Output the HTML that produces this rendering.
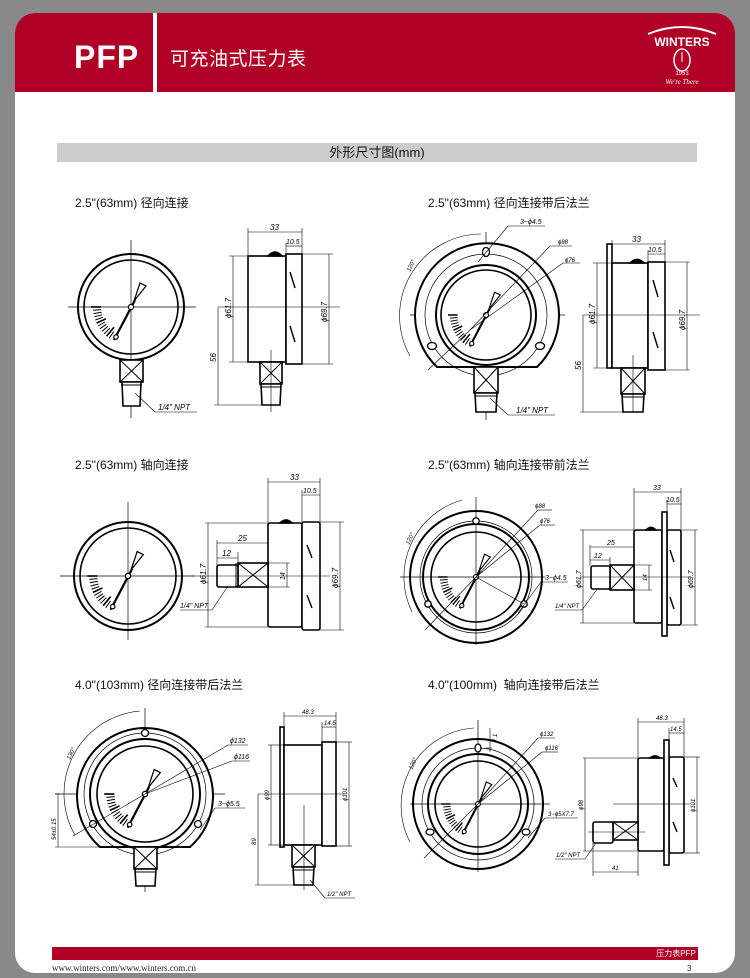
<!DOCTYPE html>
<html><head><meta charset="utf-8">
<style>
html,body{margin:0;padding:0;background:#898989;}
body{width:750px;height:978px;position:relative;overflow:hidden;font-family:"Liberation Sans","Noto Sans CJK SC",sans-serif;}
.page{position:absolute;left:15px;top:13px;width:720px;height:960px;background:#fff;border-radius:20px 20px 20px 20px;overflow:hidden;}
.hdr{position:absolute;left:0;top:0;width:720px;height:79px;background:#b00025;}
.sep{position:absolute;left:138px;top:0;width:4px;height:79px;background:#fff;}
.pfp{position:absolute;left:59px;top:26px;color:#fff;font-size:32px;font-weight:bold;letter-spacing:1px;}
.ttl{position:absolute;left:155px;top:31px;color:#fff;font-size:19px;letter-spacing:0.5px;}
.bar{position:absolute;left:42px;top:130px;width:640px;height:19px;background:#ccc;text-align:center;font-size:13px;line-height:19px;color:#111;}
.h{position:absolute;font-size:12px;color:#111;}
.fbar{position:absolute;left:37px;top:934px;width:646px;height:13px;background:#b00025;color:#fff;font-size:8px;text-align:right;line-height:13px;}
.furl{position:absolute;left:37px;top:950px;font-family:"Liberation Serif",serif;font-size:9px;color:#222;}
.pg{position:absolute;left:672px;top:951px;font-size:8px;color:#222;}
svg{position:absolute;left:0;top:0;}
</style></head><body>
<div class="page">
<div class="hdr"><div class="sep"></div><div class="pfp">PFP</div><div class="ttl">可充油式压力表</div></div>
<div class="bar">外形尺寸图(mm)</div>
<div class="h" style="left:60px;top:181px">2.5"(63mm) 径向连接</div>
<div class="h" style="left:413px;top:181px">2.5"(63mm) 径向连接带后法兰</div>
<div class="h" style="left:60px;top:443px">2.5"(63mm) 轴向连接</div>
<div class="h" style="left:413px;top:443px">2.5"(63mm) 轴向连接带前法兰</div>
<div class="h" style="left:60px;top:663px">4.0"(103mm) 径向连接带后法兰</div>
<div class="h" style="left:413px;top:663px">4.0"(100mm)&nbsp; 轴向连接带后法兰</div>
<div class="fbar">压力表PFP&nbsp;</div>
<div class="furl">www.winters.com/www.winters.com.cn</div>
<div class="pg">3</div>
</div>
<svg width="750" height="978" viewBox="0 0 750 978" xmlns="http://www.w3.org/2000/svg" font-family="Liberation Sans, sans-serif" font-style="italic" font-size="8" fill="none" stroke="#000">
<!-- logo -->
<g stroke="#fff" fill="none">
<path d="M648 34 Q682 20 716 34" stroke-width="2"/>
<text x="682" y="46" fill="#fff" stroke="none" font-size="12" font-weight="bold" font-style="normal" text-anchor="middle">WINTERS</text>
<ellipse cx="682" cy="60" rx="8" ry="11" stroke-width="1.5"/>
<line x1="682" y1="52" x2="682" y2="62"/>
<text x="682" y="75" fill="#fff" stroke="none" font-size="6" font-style="normal" text-anchor="middle">1953</text>
<text x="682" y="84" fill="#fff" stroke="none" font-size="7" font-family="Liberation Serif, serif" text-anchor="middle">We're There</text>
</g>
<defs>
<g id="dial">
<g stroke-width="1" vector-effect="non-scaling-stroke">
<line x1="-30" y1="0" x2="-40" y2="0" stroke-width="1.6"/>
<line x1="-29.9" y1="2.6" x2="-37.9" y2="3.3"/>
<line x1="-29.5" y1="5.2" x2="-37.4" y2="6.6"/>
<line x1="-29" y1="7.8" x2="-36.7" y2="9.8"/>
<line x1="-28.2" y1="10.3" x2="-35.7" y2="13"/>
<line x1="-25" y1="11.7" x2="-34.4" y2="16.1" stroke-width="1.6"/>
<line x1="-26" y1="15" x2="-32.9" y2="19"/>
<line x1="-24.6" y1="17.2" x2="-31.1" y2="21.8"/>
<line x1="-23" y1="19.3" x2="-29.1" y2="24.4"/>
<line x1="-21.2" y1="21.2" x2="-26.9" y2="26.9"/>
<line x1="-17" y1="20.2" x2="-24.4" y2="29.1" stroke-width="1.6"/>
<line x1="-17.2" y1="24.6" x2="-21.8" y2="31.1"/>
</g>
<line x1="-17" y1="33" x2="4" y2="-7" stroke-width="2.2"/>
<polygon points="3,-6 9,-24 15,-21" fill="#fff" stroke-width="1.2"/>
<circle cx="0" cy="0" r="2.6" fill="#fff" stroke-width="1.2"/>
<circle cx="-15" cy="30" r="2.2" fill="#fff" stroke-width="1.2"/>
</g>
</defs>

<!-- ===== Gauge 1 ===== -->
<g stroke-width="0.7">
<line x1="68" y1="307" x2="196" y2="307"/><line x1="131" y1="240" x2="131" y2="418"/>
</g>
<circle cx="131" cy="307" r="53" stroke-width="2"/>
<circle cx="131" cy="307" r="47" stroke-width="1.6"/>
<use href="#dial" transform="translate(131 307) scale(1)"/>
<g stroke-width="1.6" fill="#fff">
<rect x="120" y="360" width="23" height="22"/>
<path d="M122 382 L141 382 L140 406 L123 406 Z"/>
</g>
<g stroke-width="1"><line x1="120" y1="360" x2="143" y2="382"/><line x1="143" y1="360" x2="120" y2="382"/><line x1="121" y1="385" x2="142" y2="385"/></g>
<g stroke-width="0.6"><line x1="135" y1="393" x2="155" y2="412"/><line x1="155" y1="412" x2="197" y2="412"/></g>
<text x="158" y="410" stroke="none" fill="#000">1/4" NPT</text>
<!-- side 1 -->
<g stroke-width="1.6" fill="#fff">
<rect x="248" y="256" width="38" height="106"/>
<rect x="286" y="254" width="16" height="110"/>
<path d="M268 256 Q275 248 282 256 Z" fill="#000"/>
<rect x="260" y="362" width="22" height="22"/>
<path d="M261 384 L281 384 L280 405 L262 405 Z"/>
</g>
<g stroke-width="1"><line x1="260" y1="362" x2="282" y2="384"/><line x1="282" y1="362" x2="260" y2="384"/><line x1="261" y1="387" x2="281" y2="387"/>
<line x1="290" y1="272" x2="295" y2="288" stroke-width="1.4"/><line x1="290" y1="326" x2="295" y2="342" stroke-width="1.4"/></g>
<g stroke-width="0.6">
<line x1="218" y1="307" x2="340" y2="307"/><line x1="271" y1="350" x2="271" y2="412"/>
<line x1="248" y1="228" x2="248" y2="256"/><line x1="302" y1="228" x2="302" y2="254"/><line x1="286" y1="243" x2="286" y2="254"/>
<line x1="248" y1="232" x2="302" y2="232"/><line x1="286" y1="246" x2="302" y2="246"/>
<line x1="229" y1="256" x2="248" y2="256"/><line x1="229" y1="362" x2="248" y2="362"/><line x1="233" y1="256" x2="233" y2="362"/>
<line x1="302" y1="254" x2="333" y2="254"/><line x1="302" y1="364" x2="333" y2="364"/><line x1="329" y1="254" x2="329" y2="364"/>
<line x1="218" y1="307" x2="218" y2="405"/><line x1="214" y1="405" x2="262" y2="405"/>
</g>
<text x="270" y="230" stroke="none" fill="#000">33</text><text x="286" y="244" stroke="none" fill="#000" font-size="7">10.5</text>
<text transform="translate(231 318) rotate(-90)" stroke="none" fill="#000">ϕ61.7</text>
<text transform="translate(327 322) rotate(-90)" stroke="none" fill="#000">ϕ69.7</text>
<text transform="translate(216 362) rotate(-90)" stroke="none" fill="#000">56</text>

<!-- ===== Gauge 2 ===== -->
<g stroke-width="0.7"><line x1="410" y1="315" x2="565" y2="315"/><line x1="486" y1="232" x2="486" y2="420"/></g>
<path d="M437 367 A72 72 0 1 1 537 367 Z" stroke-width="2" fill="#fff"/>
<circle cx="486" cy="315" r="61" stroke-width="0.7"/>
<circle cx="486" cy="315" r="50" stroke-width="2"/>
<circle cx="486" cy="315" r="45" stroke-width="1.6"/>
<use href="#dial" transform="translate(486 315) scale(0.95)"/>
<g stroke-width="1.3" fill="#fff"><ellipse cx="486" cy="252" rx="3.5" ry="4.5"/><ellipse cx="432" cy="346" rx="4.5" ry="3.5"/><ellipse cx="540" cy="346" rx="4.5" ry="3.5"/></g>
<g stroke-width="0.6">
<line x1="478" y1="262" x2="508" y2="226"/><line x1="508" y1="226" x2="545" y2="226"/>
<line x1="470" y1="330" x2="550" y2="246"/><line x1="550" y1="246" x2="572" y2="246"/>
<line x1="470" y1="330" x2="563" y2="263"/><line x1="563" y1="263" x2="580" y2="263"/>
<path d="M481 234 A82 82 0 0 0 410 356"/><line x1="470" y1="330" x2="428" y2="370"/>
</g>
<text x="520" y="224" stroke="none" fill="#000" font-size="7">3−ϕ4.5</text>
<text x="558" y="244" stroke="none" fill="#000" font-size="6">ϕ88</text>
<text x="565" y="262" stroke="none" fill="#000" font-size="6">ϕ76</text>
<text transform="translate(410 272) rotate(-65)" stroke="none" fill="#000" font-size="6">120°</text>
<g stroke-width="1.6" fill="#fff">
<rect x="474" y="367" width="24" height="26"/>
<path d="M475 393 L497 393 L496 412 L476 412 Z"/>
</g>
<g stroke-width="1"><line x1="474" y1="367" x2="498" y2="393"/><line x1="498" y1="367" x2="474" y2="393"/><line x1="475" y1="396" x2="497" y2="396"/></g>
<g stroke-width="0.6"><line x1="490" y1="398" x2="508" y2="415"/><line x1="508" y1="415" x2="555" y2="415"/></g>
<text x="516" y="413" stroke="none" fill="#000">1/4" NPT</text>
<!-- side 2 -->
<g stroke-width="1.6" fill="#fff">
<rect x="607" y="244" width="5" height="124"/>
<rect x="612" y="263" width="36" height="105"/>
<rect x="648" y="262" width="17" height="108"/>
<path d="M630 263 Q637 256 644 263 Z" fill="#000"/>
<rect x="621" y="368" width="24" height="26"/>
<path d="M622 394 L644 394 L643 412 L623 412 Z"/>
</g>
<g stroke-width="1"><line x1="621" y1="368" x2="645" y2="394"/><line x1="645" y1="368" x2="621" y2="394"/><line x1="622" y1="397" x2="644" y2="397"/>
<line x1="653" y1="280" x2="658" y2="297" stroke-width="1.4"/><line x1="653" y1="332" x2="658" y2="348" stroke-width="1.4"/></g>
<g stroke-width="0.6">
<line x1="583" y1="315" x2="700" y2="315"/><line x1="633" y1="355" x2="633" y2="412"/>
<line x1="612" y1="240" x2="612" y2="244"/><line x1="665" y1="240" x2="665" y2="262"/><line x1="648" y1="250" x2="648" y2="262"/>
<line x1="612" y1="244" x2="665" y2="244"/><line x1="648" y1="254" x2="665" y2="254"/>
<line x1="593" y1="263" x2="612" y2="263"/><line x1="593" y1="368" x2="612" y2="368"/><line x1="597" y1="263" x2="597" y2="368"/>
<line x1="665" y1="262" x2="690" y2="262"/><line x1="665" y1="370" x2="690" y2="370"/><line x1="687" y1="262" x2="687" y2="370"/>
<line x1="583" y1="315" x2="583" y2="412"/><line x1="580" y1="412" x2="623" y2="412"/>
</g>
<text x="632" y="242" stroke="none" fill="#000">33</text><text x="648" y="252" stroke="none" fill="#000" font-size="7">10.5</text>
<text transform="translate(595 324) rotate(-90)" stroke="none" fill="#000">ϕ61.7</text>
<text transform="translate(685 330) rotate(-90)" stroke="none" fill="#000">ϕ69.7</text>
<text transform="translate(581 370) rotate(-90)" stroke="none" fill="#000">56</text>

<!-- ===== Gauge 3 ===== -->
<g stroke-width="0.7"><line x1="60" y1="576" x2="195" y2="576"/><line x1="128" y1="502" x2="128" y2="640"/></g>
<circle cx="128" cy="576" r="54" stroke-width="2"/>
<circle cx="128" cy="576" r="48" stroke-width="1.6"/>
<use href="#dial" transform="translate(128 576) scale(1.02)"/>
<!-- side 3 -->
<g stroke-width="1.6" fill="#fff">
<rect x="268" y="523" width="34" height="104" rx="2"/>
<rect x="302" y="522" width="18" height="108" rx="2"/>
<path d="M280 523 Q286 517 292 523 Z" fill="#000"/>
<rect x="238" y="563" width="30" height="24"/>
<rect x="217" y="565" width="21" height="22" rx="2"/>
</g>
<g stroke-width="1"><line x1="238" y1="563" x2="268" y2="587"/><line x1="268" y1="563" x2="238" y2="587"/><line x1="236" y1="563" x2="236" y2="587"/>
<line x1="307" y1="545" x2="312" y2="558" stroke-width="1.4"/><line x1="307" y1="595" x2="312" y2="608" stroke-width="1.4"/></g>
<g stroke-width="0.6">
<line x1="190" y1="576" x2="330" y2="576"/>
<line x1="268" y1="478" x2="268" y2="523"/><line x1="320" y1="478" x2="320" y2="522"/><line x1="302" y1="490" x2="302" y2="522"/>
<line x1="268" y1="482" x2="320" y2="482"/><line x1="302" y1="495" x2="320" y2="495"/>
<line x1="217" y1="540" x2="217" y2="565"/><line x1="238" y1="552" x2="238" y2="563"/>
<line x1="217" y1="543" x2="268" y2="543"/><line x1="217" y1="558" x2="238" y2="558"/>
<line x1="205" y1="523" x2="268" y2="523"/><line x1="205" y1="627" x2="268" y2="627"/><line x1="208" y1="523" x2="208" y2="627"/>
<line x1="320" y1="522" x2="344" y2="522"/><line x1="320" y1="630" x2="344" y2="630"/><line x1="340" y1="522" x2="340" y2="630"/>
<line x1="268" y1="563" x2="290" y2="563"/><line x1="268" y1="587" x2="290" y2="587"/><line x1="287" y1="563" x2="287" y2="587"/>
<line x1="228" y1="586" x2="212" y2="610"/><line x1="212" y1="610" x2="180" y2="610"/>
</g>
<text x="290" y="480" stroke="none" fill="#000">33</text><text x="303" y="493" stroke="none" fill="#000" font-size="7">10.5</text>
<text x="238" y="541" stroke="none" fill="#000">25</text><text x="222" y="556" stroke="none" fill="#000">12</text>
<text transform="translate(206 584) rotate(-90)" stroke="none" fill="#000">ϕ61.7</text>
<text transform="translate(338 588) rotate(-90)" stroke="none" fill="#000">ϕ69.7</text>
<text transform="translate(285 580) rotate(-90)" stroke="none" fill="#000" font-size="7">14</text>
<text x="180" y="608" stroke="none" fill="#000" font-size="7">1/4" NPT</text>

<!-- ===== Gauge 4 ===== -->
<g stroke-width="0.7"><line x1="400" y1="577" x2="545" y2="577"/><line x1="476" y1="497" x2="476" y2="645"/></g>
<circle cx="476" cy="577" r="66" stroke-width="2"/>
<circle cx="476" cy="577" r="56" stroke-width="0.7"/>
<circle cx="476" cy="577" r="53" stroke-width="2"/>
<circle cx="476" cy="577" r="45" stroke-width="1.6"/>
<use href="#dial" transform="translate(476 577) scale(0.95)"/>
<g stroke-width="1.3" fill="#fff"><circle cx="476" cy="521" r="3.2"/><circle cx="428" cy="604" r="3.2"/><circle cx="524" cy="604" r="3.2"/></g>
<g stroke-width="0.6">
<line x1="476" y1="577" x2="538" y2="510"/><line x1="538" y1="510" x2="552" y2="510"/>
<line x1="476" y1="577" x2="540" y2="525"/><line x1="540" y1="525" x2="555" y2="525"/>
<line x1="476" y1="577" x2="524" y2="604"/><line x1="518" y1="613" x2="541" y2="582"/><line x1="541" y1="582" x2="568" y2="582"/>
<path d="M462 500 A80 80 0 0 0 412 612"/><line x1="476" y1="577" x2="425" y2="630"/>
</g>
<text x="535" y="508" stroke="none" fill="#000" font-size="6">ϕ88</text>
<text x="540" y="523" stroke="none" fill="#000" font-size="6">ϕ76</text>
<text x="545" y="580" stroke="none" fill="#000" font-size="7">3−ϕ4.5</text>
<text transform="translate(409 545) rotate(-65)" stroke="none" fill="#000" font-size="6">120°</text>
<!-- side 4 -->
<g stroke-width="1.6" fill="#fff">
<rect x="634" y="530" width="28" height="93" rx="2"/>
<rect x="667" y="530" width="14" height="95" rx="2"/>
<rect x="662" y="512" width="5" height="124"/>
<path d="M646 530 Q651 525 656 530 Z" fill="#000"/>
<rect x="610" y="565" width="24" height="25"/>
<rect x="591" y="566" width="19" height="23" rx="2"/>
</g>
<g stroke-width="1"><line x1="610" y1="565" x2="634" y2="590"/><line x1="634" y1="565" x2="610" y2="590"/>
<line x1="670" y1="550" x2="674" y2="562" stroke-width="1.4"/><line x1="670" y1="597" x2="674" y2="609" stroke-width="1.4"/></g>
<g stroke-width="0.6">
<line x1="580" y1="577" x2="690" y2="577"/>
<line x1="634" y1="488" x2="634" y2="530"/><line x1="681" y1="488" x2="681" y2="530"/><line x1="667" y1="500" x2="667" y2="512"/>
<line x1="634" y1="492" x2="681" y2="492"/><line x1="667" y1="504" x2="681" y2="504"/>
<line x1="590" y1="545" x2="590" y2="566"/><line x1="610" y1="557" x2="610" y2="565"/>
<line x1="590" y1="547" x2="634" y2="547"/><line x1="590" y1="560" x2="610" y2="560"/>
<line x1="580" y1="530" x2="634" y2="530"/><line x1="580" y1="623" x2="634" y2="623"/><line x1="583" y1="530" x2="583" y2="623"/>
<line x1="681" y1="530" x2="698" y2="530"/><line x1="681" y1="625" x2="698" y2="625"/><line x1="695" y1="530" x2="695" y2="625"/>
<line x1="634" y1="565" x2="652" y2="565"/><line x1="634" y1="590" x2="652" y2="590"/><line x1="649" y1="565" x2="649" y2="590"/>
<line x1="598" y1="588" x2="582" y2="610"/><line x1="582" y1="610" x2="555" y2="610"/>
</g>
<text x="653" y="490" stroke="none" fill="#000" font-size="7">33</text><text x="666" y="502" stroke="none" fill="#000" font-size="7">10.5</text>
<text x="607" y="545" stroke="none" fill="#000" font-size="7">25</text><text x="594" y="558" stroke="none" fill="#000" font-size="7">12</text>
<text transform="translate(581 588) rotate(-90)" stroke="none" fill="#000" font-size="7">ϕ61.7</text>
<text transform="translate(693 588) rotate(-90)" stroke="none" fill="#000" font-size="7">ϕ69.7</text>
<text transform="translate(647 581) rotate(-90)" stroke="none" fill="#000" font-size="6">14</text>
<text x="555" y="608" stroke="none" fill="#000" font-size="6">1/4" NPT</text>

<!-- ===== Gauge 5 ===== -->
<g stroke-width="0.7"><line x1="55" y1="794" x2="225" y2="794"/><line x1="145" y1="708" x2="145" y2="892"/></g>
<path d="M100 847 A68 68 0 1 1 190 847 Z" stroke-width="2" fill="#fff"/>
<circle cx="145" cy="794" r="61" stroke-width="0.7"/>
<circle cx="145" cy="794" r="55" stroke-width="2"/>
<circle cx="145" cy="794" r="48" stroke-width="1.6"/>
<use href="#dial" transform="translate(145 794) scale(1.02)"/>
<g stroke-width="1.3" fill="#fff"><circle cx="145" cy="733" r="3.5"/><circle cx="93" cy="824" r="3.5"/><circle cx="198" cy="824" r="3.5"/></g>
<g stroke-width="0.6">
<line x1="145" y1="794" x2="228" y2="745"/><line x1="228" y1="745" x2="248" y2="745"/>
<line x1="145" y1="794" x2="232" y2="761"/><line x1="232" y1="761" x2="250" y2="761"/>
<line x1="200" y1="830" x2="215" y2="808"/><line x1="215" y1="808" x2="245" y2="808"/>
<path d="M140 711 A83 83 0 0 0 75 835"/><line x1="145" y1="794" x2="73" y2="836"/>
<line x1="55" y1="794" x2="60" y2="794"/><line x1="58" y1="794" x2="58" y2="847"/><line x1="55" y1="847" x2="100" y2="847"/>
</g>
<text x="230" y="743" stroke="none" fill="#000" font-size="7">ϕ132</text>
<text x="234" y="759" stroke="none" fill="#000" font-size="7">ϕ116</text>
<text x="218" y="806" stroke="none" fill="#000" font-size="7">3−ϕ5.5</text>
<text transform="translate(70 760) rotate(-65)" stroke="none" fill="#000" font-size="6">130°</text>
<text transform="translate(56 840) rotate(-90)" stroke="none" fill="#000" font-size="6">54±0.15</text>
<g stroke-width="1.6" fill="#fff">
<rect x="134" y="847" width="23" height="22"/>
<path d="M135 869 L156 869 L155 886 L136 886 Z"/>
</g>
<g stroke-width="1"><line x1="134" y1="847" x2="157" y2="869"/><line x1="157" y1="847" x2="134" y2="869"/><line x1="135" y1="872" x2="156" y2="872"/></g>
<!-- side 5 -->
<g stroke-width="1.6" fill="#fff">
<rect x="280" y="727" width="4" height="120"/>
<rect x="284" y="745" width="38" height="100"/>
<rect x="322" y="742" width="14" height="104"/>
<rect x="292" y="845" width="23" height="22"/>
<path d="M293 867 L314 867 L313 885 L294 885 Z"/>
</g>
<g stroke-width="1"><line x1="292" y1="845" x2="315" y2="867"/><line x1="315" y1="845" x2="292" y2="867"/><line x1="293" y1="870" x2="314" y2="870"/></g>
<g stroke-width="0.6">
<line x1="258" y1="794" x2="345" y2="794"/><line x1="304" y1="805" x2="304" y2="890"/>
<line x1="284" y1="712" x2="284" y2="727"/><line x1="336" y1="712" x2="336" y2="742"/><line x1="322" y1="722" x2="322" y2="742"/>
<line x1="284" y1="716" x2="336" y2="716"/><line x1="322" y1="727" x2="336" y2="727"/>
<line x1="268" y1="745" x2="284" y2="745"/><line x1="268" y1="845" x2="284" y2="845"/><line x1="271" y1="745" x2="271" y2="845"/>
<line x1="336" y1="742" x2="352" y2="742"/><line x1="336" y1="846" x2="352" y2="846"/><line x1="349" y1="742" x2="349" y2="846"/>
<line x1="258" y1="794" x2="258" y2="885"/><line x1="255" y1="885" x2="294" y2="885"/>
<line x1="310" y1="880" x2="325" y2="898"/><line x1="325" y1="898" x2="355" y2="898"/>
</g>
<text x="302" y="714" stroke="none" fill="#000" font-size="6">48.3</text><text x="324" y="725" stroke="none" fill="#000" font-size="6">14.5</text>
<text transform="translate(269 800) rotate(-90)" stroke="none" fill="#000" font-size="6">ϕ99</text>
<text transform="translate(347 801) rotate(-90)" stroke="none" fill="#000" font-size="6">ϕ101</text>
<text transform="translate(256 845) rotate(-90)" stroke="none" fill="#000" font-size="6">89</text>
<text x="327" y="896" stroke="none" fill="#000" font-size="6">1/2" NPT</text>

<!-- ===== Gauge 6 ===== -->
<g stroke-width="0.7"><line x1="410" y1="804" x2="550" y2="804"/><line x1="478" y1="720" x2="478" y2="872"/></g>
<circle cx="478" cy="804" r="65" stroke-width="2"/>
<circle cx="478" cy="804" r="56" stroke-width="0.7"/>
<circle cx="478" cy="804" r="50" stroke-width="2"/>
<circle cx="478" cy="804" r="43" stroke-width="1.6"/>
<use href="#dial" transform="translate(478 804) scale(0.92)"/>
<g stroke-width="1.3" fill="#fff"><ellipse cx="478" cy="748" rx="3" ry="4"/><ellipse cx="430" cy="832" rx="4" ry="3"/><ellipse cx="526" cy="832" rx="4" ry="3"/></g>
<g stroke-width="0.6">
<line x1="478" y1="804" x2="538" y2="738"/><line x1="538" y1="738" x2="555" y2="738"/>
<line x1="478" y1="804" x2="542" y2="752"/><line x1="542" y1="752" x2="558" y2="752"/>
<line x1="528" y1="838" x2="545" y2="818"/><line x1="545" y1="818" x2="578" y2="818"/>
<path d="M474 728 A78 78 0 0 0 410 842"/><line x1="478" y1="804" x2="424" y2="858"/>
<line x1="490" y1="728" x2="490" y2="752"/><line x1="486" y1="748" x2="492" y2="748"/>
</g>
<text x="540" y="736" stroke="none" fill="#000" font-size="6">ϕ132</text>
<text x="545" y="750" stroke="none" fill="#000" font-size="6">ϕ116</text>
<text x="548" y="816" stroke="none" fill="#000" font-size="6">3−ϕ5X7.7</text>
<text transform="translate(497 742) rotate(-90)" stroke="none" fill="#000" font-size="6">7.1</text>
<text transform="translate(412 770) rotate(-65)" stroke="none" fill="#000" font-size="6">120°</text>
<!-- side 6 -->
<g stroke-width="1.6" fill="#fff">
<rect x="638" y="758" width="26" height="93" rx="2"/>
<rect x="669" y="757" width="15" height="96" rx="2"/>
<rect x="664" y="740" width="5" height="125"/>
<path d="M650 758 Q655 754 660 758 Z" fill="#000"/>
<rect x="613" y="822" width="25" height="18"/>
<rect x="593" y="822" width="20" height="21" rx="2"/>
</g>
<g stroke-width="1"><line x1="613" y1="822" x2="638" y2="840"/><line x1="638" y1="822" x2="613" y2="840"/>
<line x1="673" y1="778" x2="677" y2="787" stroke-width="1.4"/><line x1="673" y1="822" x2="677" y2="832" stroke-width="1.4"/></g>
<g stroke-width="0.6">
<line x1="613" y1="804" x2="690" y2="804"/><line x1="588" y1="832" x2="645" y2="832"/>
<line x1="638" y1="718" x2="638" y2="758"/><line x1="684" y1="718" x2="684" y2="757"/><line x1="669" y1="728" x2="669" y2="740"/>
<line x1="638" y1="722" x2="684" y2="722"/><line x1="669" y1="733" x2="684" y2="733"/>
<line x1="583" y1="758" x2="638" y2="758"/><line x1="583" y1="851" x2="638" y2="851"/><line x1="585" y1="758" x2="585" y2="851"/>
<line x1="684" y1="757" x2="700" y2="757"/><line x1="684" y1="853" x2="700" y2="853"/><line x1="697" y1="757" x2="697" y2="853"/>
<line x1="593" y1="843" x2="593" y2="876"/><line x1="638" y1="851" x2="638" y2="876"/><line x1="593" y1="872" x2="638" y2="872"/>
<line x1="596" y1="843" x2="585" y2="859"/><line x1="585" y1="859" x2="555" y2="859"/>
</g>
<text x="656" y="720" stroke="none" fill="#000" font-size="6">48.3</text><text x="670" y="731" stroke="none" fill="#000" font-size="6">14.5</text>
<text transform="translate(583 810) rotate(-90)" stroke="none" fill="#000" font-size="6">ϕ98</text>
<text transform="translate(695 812) rotate(-90)" stroke="none" fill="#000" font-size="6">ϕ101</text>
<text x="612" y="870" stroke="none" fill="#000" font-size="6">41</text>
<text x="556" y="857" stroke="none" fill="#000" font-size="6">1/2" NPT</text>
</svg>
</body></html>
